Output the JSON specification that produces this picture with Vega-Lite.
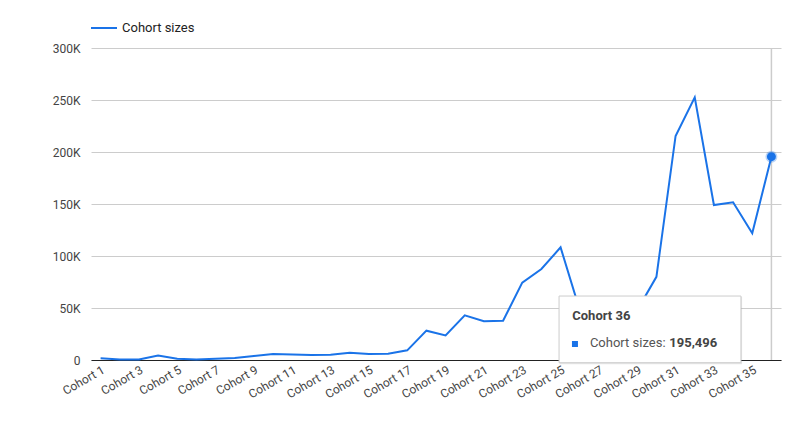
{
  "$schema": "https://vega.github.io/schema/vega-lite/v6.json",
  "width": 690,
  "height": 312,
  "autosize": {"type": "none"},
  "padding": {"left": 91, "top": 48, "right": 24, "bottom": 87},
  "data": {
    "values": [
      {"cohort": 1, "size": 1600, "series": "Cohort sizes"},
      {"cohort": 2, "size": 600, "series": "Cohort sizes"},
      {"cohort": 3, "size": 600, "series": "Cohort sizes"},
      {"cohort": 4, "size": 4200, "series": "Cohort sizes"},
      {"cohort": 5, "size": 1300, "series": "Cohort sizes"},
      {"cohort": 6, "size": 600, "series": "Cohort sizes"},
      {"cohort": 7, "size": 1300, "series": "Cohort sizes"},
      {"cohort": 8, "size": 1900, "series": "Cohort sizes"},
      {"cohort": 9, "size": 3800, "series": "Cohort sizes"},
      {"cohort": 10, "size": 5800, "series": "Cohort sizes"},
      {"cohort": 11, "size": 5400, "series": "Cohort sizes"},
      {"cohort": 12, "size": 4800, "series": "Cohort sizes"},
      {"cohort": 13, "size": 5100, "series": "Cohort sizes"},
      {"cohort": 14, "size": 7000, "series": "Cohort sizes"},
      {"cohort": 15, "size": 5800, "series": "Cohort sizes"},
      {"cohort": 16, "size": 6100, "series": "Cohort sizes"},
      {"cohort": 17, "size": 9300, "series": "Cohort sizes"},
      {"cohort": 18, "size": 28200, "series": "Cohort sizes"},
      {"cohort": 19, "size": 23700, "series": "Cohort sizes"},
      {"cohort": 20, "size": 43000, "series": "Cohort sizes"},
      {"cohort": 21, "size": 37200, "series": "Cohort sizes"},
      {"cohort": 22, "size": 37800, "series": "Cohort sizes"},
      {"cohort": 23, "size": 74400, "series": "Cohort sizes"},
      {"cohort": 24, "size": 87500, "series": "Cohort sizes"},
      {"cohort": 25, "size": 108300, "series": "Cohort sizes"},
      {"cohort": 26, "size": 48000, "series": "Cohort sizes"},
      {"cohort": 27, "size": 38000, "series": "Cohort sizes"},
      {"cohort": 28, "size": 42000, "series": "Cohort sizes"},
      {"cohort": 29, "size": 48000, "series": "Cohort sizes"},
      {"cohort": 30, "size": 80000, "series": "Cohort sizes"},
      {"cohort": 31, "size": 215400, "series": "Cohort sizes"},
      {"cohort": 32, "size": 252600, "series": "Cohort sizes"},
      {"cohort": 33, "size": 149000, "series": "Cohort sizes"},
      {"cohort": 34, "size": 151600, "series": "Cohort sizes"},
      {"cohort": 35, "size": 121800, "series": "Cohort sizes"},
      {"cohort": 36, "size": 195496, "series": "Cohort sizes"}
    ]
  },
  "layer": [
    {
      "transform": [{"filter": "datum.cohort === 36"}],
      "mark": {"type": "rule", "color": "#cccccc", "strokeWidth": 1.5},
      "encoding": {
        "x": {
          "field": "cohort",
          "type": "quantitative",
          "scale": {"domain": [0.5, 36.5], "nice": false, "zero": false},
          "axis": {
            "values": [1, 3, 5, 7, 9, 11, 13, 15, 17, 19, 21, 23, 25, 27, 29, 31, 33, 35],
            "labelExpr": "'Cohort ' + datum.value",
            "labelAngle": -30,
            "labelAlign": "right",
            "labelBaseline": "top",
            "labelPadding": 4,
            "labelFontSize": 12,
            "labelColor": "#444",
            "labelOverlap": false,
            "grid": false,
            "ticks": false,
            "domainColor": "#222",
            "domainWidth": 1,
            "title": null
          }
        },
        "y": {
          "datum": 0,
          "type": "quantitative",
          "scale": {"domain": [0, 300000], "nice": false},
          "axis": {
            "values": [0, 25000, 50000, 75000, 100000, 125000, 150000, 175000, 200000, 225000, 250000, 275000, 300000],
            "labelExpr": "datum.value % 50000 === 0 ? (datum.value === 0 ? '0' : datum.value / 1000 + 'K') : ''",
            "labelFontSize": 12,
            "labelColor": "#444",
            "labelPadding": 11,
            "ticks": false,
            "domain": false,
            "grid": true,
            "gridColor": "#cccccc",
            "title": null
          }
        },
        "y2": {"datum": 300000}
      }
    },
    {
      "mark": {"type": "line", "strokeWidth": 2},
      "encoding": {
        "x": {"field": "cohort", "type": "quantitative"},
        "y": {"field": "size", "type": "quantitative"},
        "color": {
          "field": "series",
          "type": "nominal",
          "scale": {"range": ["#1a73e8"]},
          "legend": {
            "orient": "none",
            "legendX": -1,
            "legendY": -34,
            "title": null,
            "symbolType": "stroke",
            "symbolSize": 676,
            "symbolStrokeWidth": 2,
            "labelFontSize": 13,
            "labelColor": "#222",
            "labelOffset": 4
          }
        }
      }
    },
    {
      "transform": [{"filter": "datum.cohort === 36"}],
      "mark": {"type": "circle", "color": "#1a73e8", "size": 80, "opacity": 1, "stroke": "#1a73e8", "strokeOpacity": 0.3, "strokeWidth": 3},
      "encoding": {
        "x": {"field": "cohort", "type": "quantitative"},
        "y": {"field": "size", "type": "quantitative"}
      }
    },
    {
      "transform": [{"filter": "datum.cohort === 36"}],
      "mark": {"type": "rect", "color": "#000", "opacity": 0.1, "clip": false},
      "encoding": {
        "x": {"datum": 24.95},
        "x2": {"datum": 34.47},
        "y": {"datum": 60800},
        "y2": {"datum": -4200}
      }
    },
    {
      "transform": [{"filter": "datum.cohort === 36"}],
      "mark": {"type": "rect", "fill": "#ffffff", "stroke": "#cccccc", "strokeWidth": 1, "clip": false},
      "encoding": {
        "x": {"datum": 24.92},
        "x2": {"datum": 34.41},
        "y": {"datum": 61500},
        "y2": {"datum": -2600}
      }
    },
    {
      "transform": [{"filter": "datum.cohort === 36"}],
      "mark": {"type": "text", "align": "left", "baseline": "alphabetic", "fontSize": 13, "fontWeight": "bold", "fill": "#444"},
      "encoding": {
        "text": {"value": "Cohort 36"},
        "x": {"datum": 25.61},
        "y": {"datum": 38500}
      }
    },
    {
      "transform": [{"filter": "datum.cohort === 36"}],
      "mark": {"type": "square", "color": "#1a73e8", "size": 36, "opacity": 1},
      "encoding": {
        "x": {"datum": 25.75},
        "y": {"datum": 15400}
      }
    },
    {
      "transform": [{"filter": "datum.cohort === 36"}],
      "mark": {"type": "text", "align": "left", "baseline": "alphabetic", "fontSize": 13, "fill": "#555"},
      "encoding": {
        "text": {"value": "Cohort sizes:"},
        "x": {"datum": 26.53},
        "y": {"datum": 12200}
      }
    },
    {
      "transform": [{"filter": "datum.cohort === 36"}],
      "mark": {"type": "text", "align": "left", "baseline": "alphabetic", "fontSize": 13, "fontWeight": "bold", "fill": "#444"},
      "encoding": {
        "text": {"field": "size", "type": "quantitative", "format": ","},
        "x": {"datum": 30.67},
        "y": {"datum": 12200}
      }
    }
  ],
  "config": {
    "font": "Roboto",
    "view": {"stroke": null},
    "background": "#ffffff"
  }
}
